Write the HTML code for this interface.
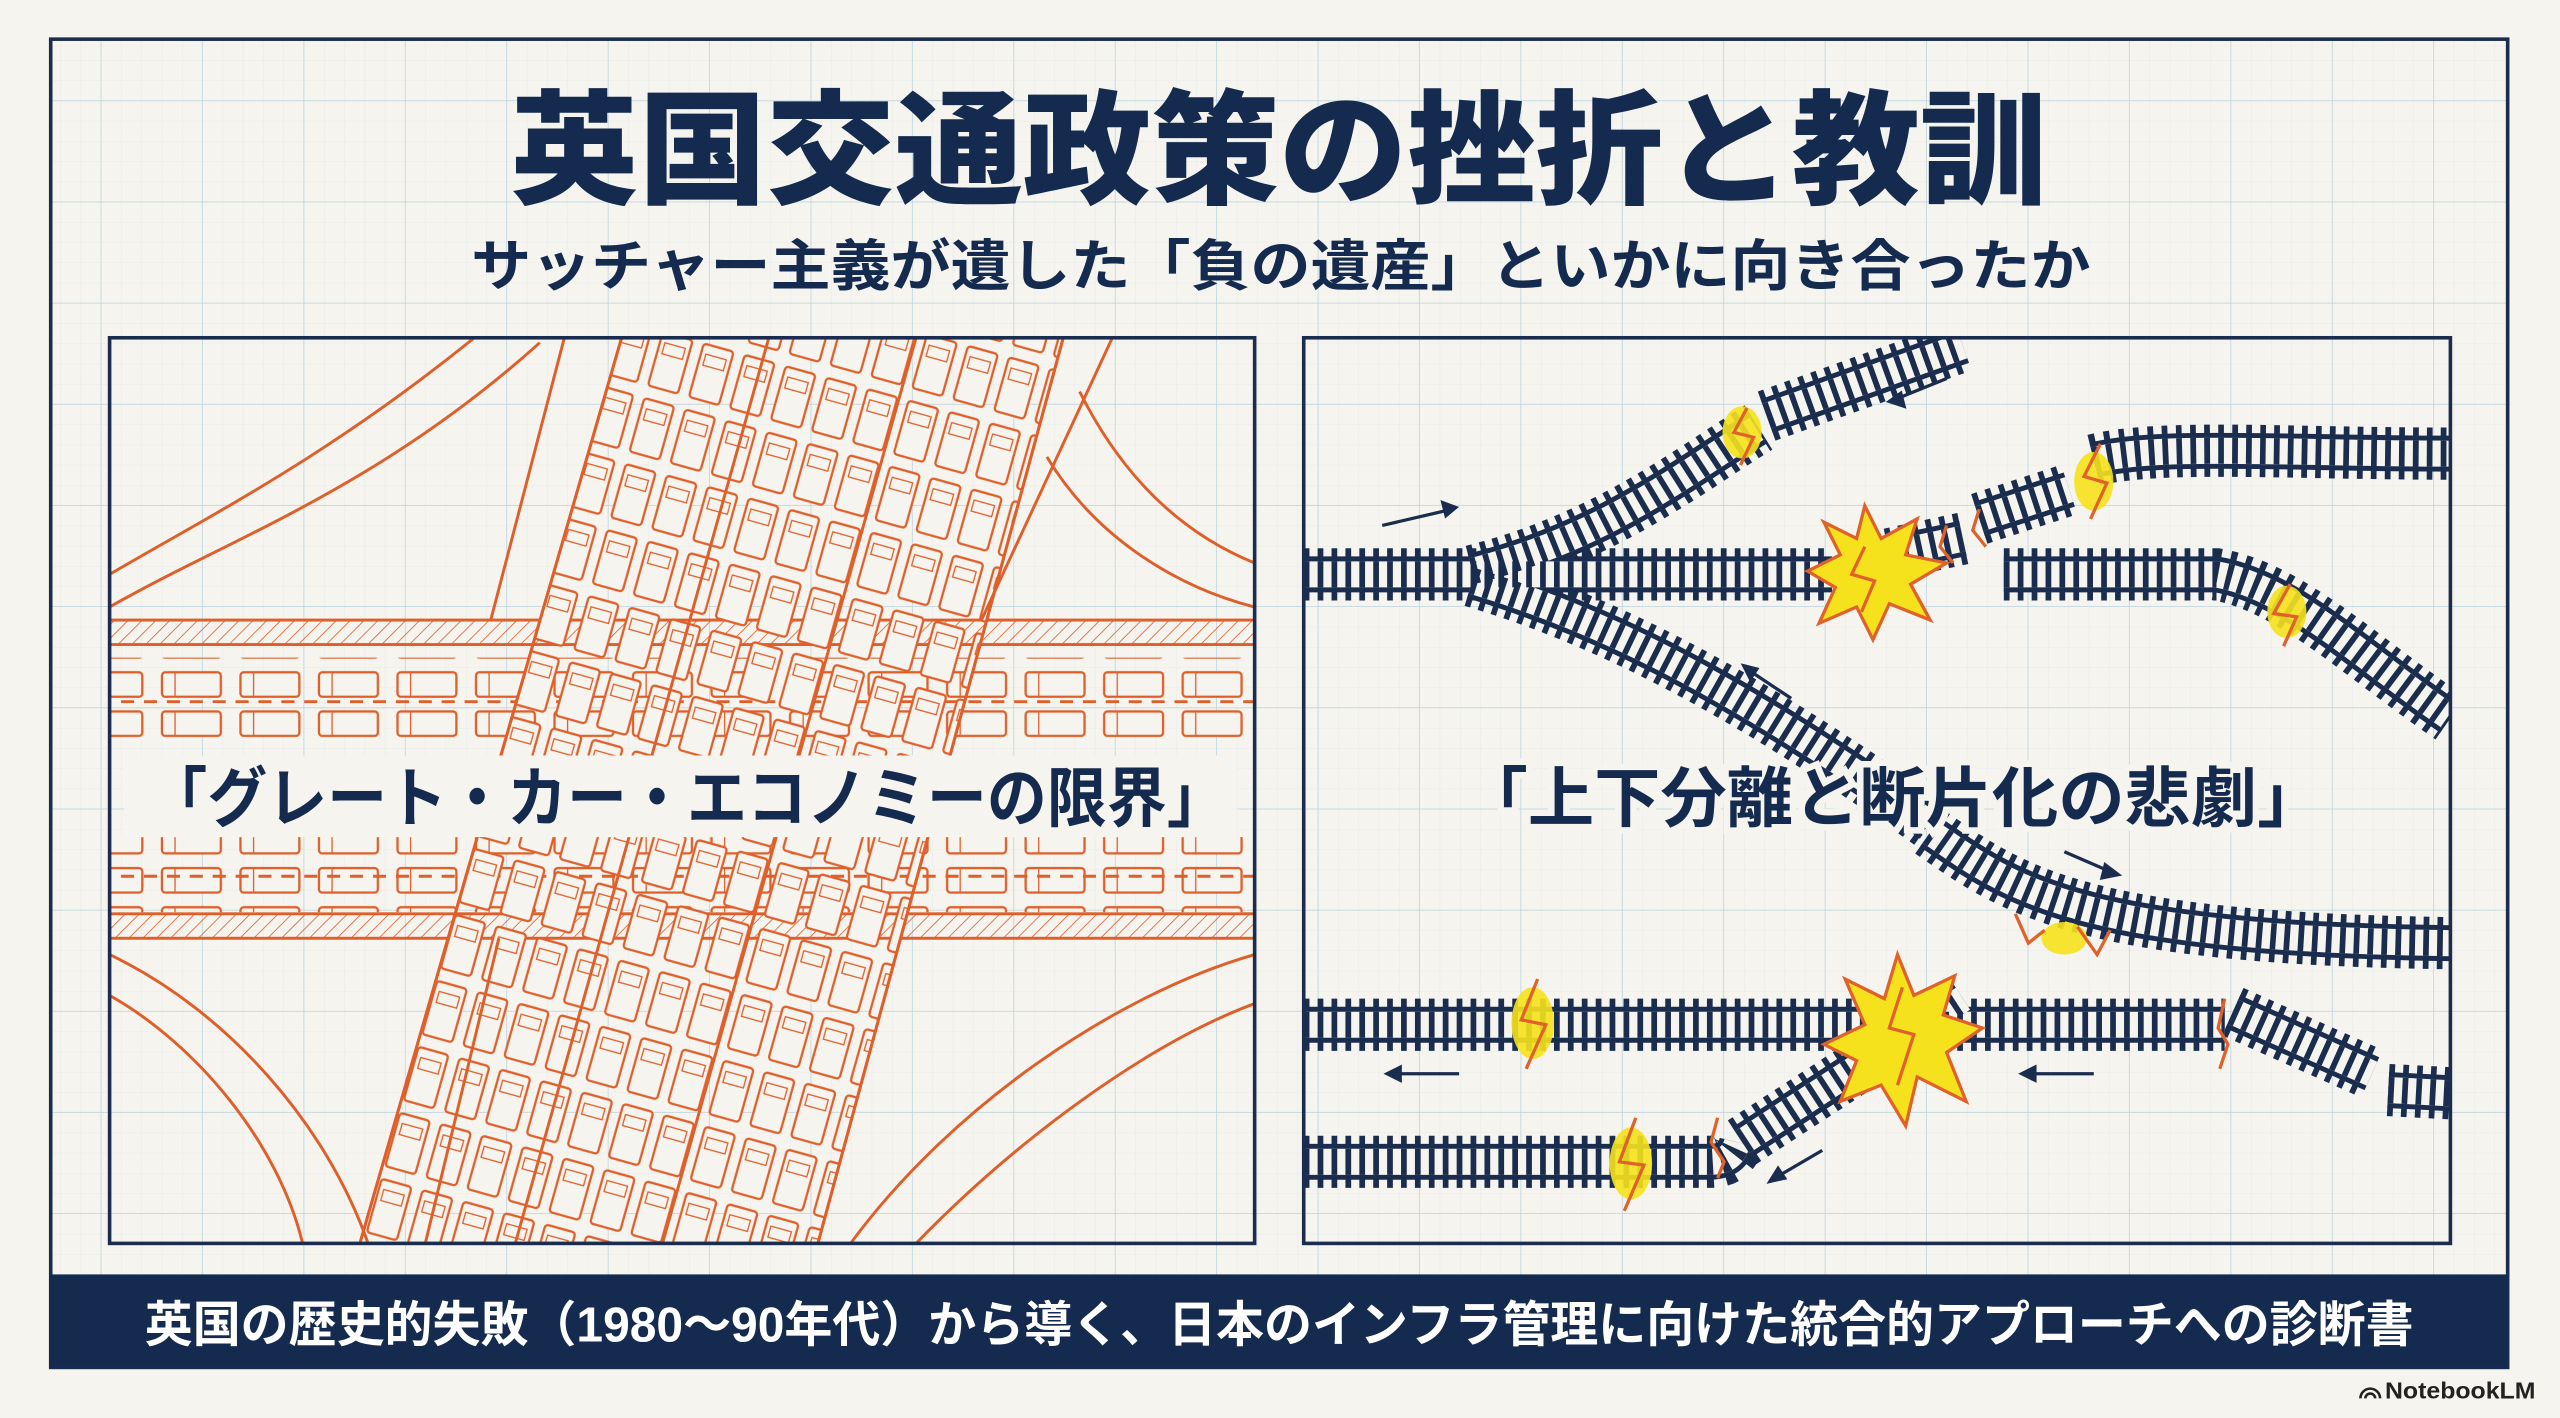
<!DOCTYPE html>
<html><head><meta charset="utf-8"><style>
html,body{margin:0;padding:0;background:#f6f4ee;}
svg{display:block}
text{font-family:"Liberation Sans","Noto Sans CJK JP",sans-serif;}
</style></head><body>
<svg width="2560" height="1418" viewBox="0 0 1565 869" preserveAspectRatio="none" xmlns="http://www.w3.org/2000/svg">
<defs>
<pattern id="gmin" width="12.4" height="12.4" patternUnits="userSpaceOnUse">
<path d="M12.4 0V12.4H0" fill="none" stroke="#d3e3ea" stroke-width="0.5"/></pattern>
<pattern id="gmaj" width="62" height="62" patternUnits="userSpaceOnUse">
<path d="M62 0V62H0" fill="none" stroke="#b9d3de" stroke-width="0.9"/></pattern>
<pattern id="hatch" width="6" height="6" patternUnits="userSpaceOnUse" patternTransform="rotate(45)">
<line x1="0" y1="0" x2="0" y2="6" stroke="#df5f2b" stroke-width="1"/></pattern>
<pattern id="cars" width="26" height="42" patternUnits="userSpaceOnUse" patternTransform="rotate(15.6)">
<rect x="3" y="3" width="19" height="34" rx="2" fill="#f6f4ee" stroke="#df5f2b" stroke-width="1.4"/>
<rect x="6" y="9" width="13" height="7" fill="none" stroke="#df5f2b" stroke-width="0.8"/></pattern>
<pattern id="hcars" width="48" height="24" patternUnits="userSpaceOnUse">
<rect x="3" y="4" width="36" height="15" rx="2" fill="#f6f4ee" stroke="#df5f2b" stroke-width="1.4"/>
<line x1="11" y1="4" x2="11" y2="19" stroke="#df5f2b" stroke-width="0.8"/></pattern>
<clipPath id="lp"><rect x="67" y="207" width="700" height="555"/></clipPath>
<clipPath id="rp"><rect x="797" y="207" width="701" height="555"/></clipPath>
</defs>
<rect width="1565" height="869" fill="#f6f4ee"/>
<rect x="30" y="25" width="1503" height="813" fill="url(#gmin)" opacity="0.6"/>
<rect x="30" y="25" width="1503" height="813" fill="url(#gmaj)"/>
<rect x="31" y="24" width="1502" height="814" fill="none" stroke="#1b2d4f" stroke-width="2.2"/>

<text x="782" y="119" font-size="76" font-weight="900" fill="#142a4f" text-anchor="middle" textLength="940" lengthAdjust="spacingAndGlyphs">英国交通政策の挫折と教訓</text>
<text x="783" y="175" font-size="34" font-weight="700" fill="#142a4f" text-anchor="middle" textLength="990" lengthAdjust="spacingAndGlyphs">サッチャー主義が遺した「負の遺産」といかに向き合ったか</text>

<!-- LEFT PANEL -->
<g clip-path="url(#lp)" stroke="#df5f2b" fill="none" stroke-width="1.8">
<rect x="60" y="380" width="720" height="15" fill="url(#hatch)"/>
<rect x="60" y="560" width="720" height="15" fill="url(#hatch)"/>
<rect x="60" y="403" width="720" height="56" fill="url(#hcars)" stroke="none"/>
<rect x="60" y="513" width="720" height="46" fill="url(#hcars)" stroke="none"/>
<line x1="60" y1="430" x2="780" y2="430" stroke-dasharray="8 6"/>
<line x1="60" y1="537" x2="780" y2="537" stroke-dasharray="8 6"/>
<path d="M380 207 L650 207 L500 762 L220 762 Z" fill="url(#cars)"/>
<path d="M380 207 L220 762 M650 207 L500 762 M470 207 L315 762 M560 207 L405 762"/>
<path d="M345 207 L300 380 M305 575 L260 762 M680 207 L600 380"/>
<path d="M67 372 C140 330 230 300 330 210 M67 352 C130 315 200 280 290 207"/>
<path d="M640 280 C670 330 720 360 767 372 M660 240 C690 300 730 330 767 345"/>
<path d="M67 585 C140 620 200 690 225 762 M67 610 C120 640 170 700 185 762"/>
<path d="M520 762 C580 680 680 610 767 585 M560 762 C620 700 700 640 767 615"/>
</g>
<rect x="76" y="463" width="680" height="50" fill="#f6f4ee"/>
<rect x="67" y="207" width="700" height="555" fill="none" stroke="#1b2d4f" stroke-width="2.2"/>
<text x="420" y="503" font-size="40" font-weight="700" fill="#142a4f" text-anchor="middle" textLength="660" lengthAdjust="spacingAndGlyphs">「グレート・カー・エコノミーの限界」</text>

<!-- RIGHT PANEL -->
<g clip-path="url(#rp)" fill="none">
<g id="tracks">
<path id="t1" d="M797 352 L1120 352 M1130 345 L1200 330 M900 350 C980 330 1030 290 1075 262 M1080 255 L1200 212 M900 356 C980 380 1060 420 1180 505 M1180 510 C1230 545 1270 575 1498 578 M1225 352 L1355 352 C1400 360 1440 400 1498 440 M1210 318 L1265 300 M1280 282 C1320 272 1400 278 1498 278 M797 628 L1360 628 M1365 620 L1450 658 M1460 668 L1498 670 M797 712 L1045 712 C1055 712 1060 708 1062 700 M1065 700 L1200 612"/>
</g>
<use href="#t1" stroke="#1b2d4f" stroke-width="32" stroke-dasharray="3.5 5"/>
<use href="#t1" stroke="#1b2d4f" stroke-width="22"/>
<use href="#t1" stroke="#f6f4ee" stroke-width="16"/>
<use href="#t1" stroke="#1b2d4f" stroke-width="16" stroke-dasharray="3.5 5"/>
<polygon points="1140,310 1150,330 1172,318 1165,340 1190,345 1168,358 1180,380 1155,370 1145,392 1135,372 1112,382 1122,360 1105,350 1125,340 1115,320 1135,330" fill="#f6e21c" stroke="#e0612a" stroke-width="2"/>
<polygon points="1160,585 1170,610 1195,598 1188,622 1212,630 1190,645 1202,675 1172,660 1165,690 1150,665 1125,675 1135,650 1115,640 1140,628 1128,600 1152,612" fill="#f6e21c" stroke="#e0612a" stroke-width="2"/>
<g fill="#f6e21c" stroke="none" opacity="0.9">
<ellipse cx="1065" cy="265" rx="12" ry="16"/><ellipse cx="1280" cy="295" rx="12" ry="18"/><ellipse cx="1398" cy="375" rx="12" ry="16"/><ellipse cx="937" cy="627" rx="13" ry="22"/><ellipse cx="997" cy="713" rx="13" ry="22"/><ellipse cx="1262" cy="575" rx="14" ry="10"/>
</g>
<g stroke="#e0612a" stroke-width="2" fill="none">
<path d="M1068 250 L1060 265 L1072 268 L1064 285"/><path d="M1284 272 L1274 292 L1288 296 L1278 318"/><path d="M1400 358 L1390 376 L1404 378 L1396 396"/>
<path d="M940 600 L930 625 L945 628 L933 655"/><path d="M1000 685 L990 712 L1005 714 L993 742"/>
<path d="M1140 335 L1132 352 L1146 356 L1138 375"/><path d="M1163 605 L1155 630 L1170 634 L1160 665"/>
<path d="M1360 612 L1356 630 L1362 640 L1357 655"/><path d="M1050 685 L1046 700 L1054 712 L1050 722"/>
<path d="M1190 322 L1186 335 L1194 345"/><path d="M1210 312 L1206 325 L1214 335"/>
<path d="M1232 560 L1240 578 L1250 570 M1270 568 L1282 585 L1290 570"/>
</g>
<g stroke="#1b2d4f" stroke-width="2" fill="#1b2d4f">
<path d="M845 322 L888 312" fill="none"/><polygon points="890,311 882,308 884,316"/>
<path d="M1190 232 L1158 245" fill="none"/><polygon points="1155,246 1162,241 1164,249"/>
<path d="M1095 428 L1068 410" fill="none"/><polygon points="1066,408 1074,410 1070,416"/>
<path d="M1262 522 L1292 535" fill="none"/><polygon points="1295,536 1287,530 1285,538"/>
<path d="M892 658 L852 658" fill="none"/><polygon points="848,658 856,654 856,662"/>
<path d="M1280 658 L1240 658" fill="none"/><polygon points="1236,658 1244,654 1244,662"/>
<path d="M1114 705 L1085 722" fill="none"/><polygon points="1082,724 1087,716 1091,722"/>
</g>
</g>
<rect x="797" y="207" width="701" height="555" fill="none" stroke="#1b2d4f" stroke-width="2.2"/>
<text x="1157" y="503" font-size="40" font-weight="700" fill="#142a4f" text-anchor="middle" textLength="527" lengthAdjust="spacingAndGlyphs" stroke="#f6f4ee" stroke-width="8" paint-order="stroke">「上下分離と断片化の悲劇」</text>

<rect x="30" y="781" width="1503" height="57" fill="#142a4f"/>
<text x="782" y="822" font-size="30" font-weight="700" fill="#ffffff" text-anchor="middle" textLength="1387" lengthAdjust="spacingAndGlyphs">英国の歴史的失敗（1980～90年代）から導く、日本のインフラ管理に向けた統合的アプローチへの診断書</text>

<g fill="none" stroke="#222" stroke-width="1.6"><path d="M1443 857 A6 6 0 0 1 1455 857"/><path d="M1446 857 A3 3 0 0 1 1452 857"/></g>
<text x="1458" y="857" font-size="14" font-weight="700" fill="#222" textLength="92" lengthAdjust="spacingAndGlyphs">NotebookLM</text>
</svg>
</body></html>
